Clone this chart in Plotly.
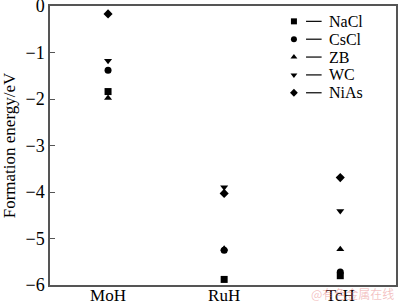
import plotly.graph_objects as go

categories = ["MoH", "RuH", "TcH"]
series_names = ["NaCl", "CsCl", "ZB", "WC", "NiAs"]
symbols = ["square", "circle", "triangle-up", "triangle-down", "diamond"]
values = {
    "NaCl": [-1.84, -5.88, -5.80],
    "CsCl": [-1.38, -5.25, -5.72],
    "ZB":   [-1.98, -5.22, -5.23],
    "WC":   [-1.18, -3.90, -4.41],
    "NiAs": [-0.17, -4.03, -3.69],
}
yticks = [0, -1, -2, -3, -4, -5, -6]

font = "Liberation Serif, Times New Roman, serif"
fig = go.Figure()
for name, sym in zip(series_names, symbols):
    fig.add_trace(go.Scatter(
        x=[1, 2, 3], y=values[name], mode="markers", name=name, showlegend=False,
        marker=dict(symbol=sym, size=7, color="black"),
    ))

# custom legend (marker, dash, label) drawn in an overlay unit frame
leg_x_marker = 0.705
leg_x_line = (0.74, 0.785)
leg_x_text = 0.8
leg_top, leg_step = 0.945, 0.064
for i, (name, sym) in enumerate(zip(series_names, symbols)):
    yy = leg_top - i * leg_step
    fig.add_trace(go.Scatter(
        x=[leg_x_marker], y=[yy], xaxis="x2", yaxis="y2", mode="markers",
        showlegend=False, hoverinfo="skip",
        marker=dict(symbol=sym, size=6, color="black"),
    ))
    fig.add_shape(type="line", xref="paper", yref="paper",
                  x0=leg_x_line[0], x1=leg_x_line[1], y0=yy, y1=yy,
                  line=dict(color="black", width=1.2))
    fig.add_annotation(x=leg_x_text, y=yy, xref="paper", yref="paper",
                       xanchor="left", yanchor="middle", text=name, showarrow=False,
                       font=dict(size=16, family=font, color="black"))

fig.update_layout(
    width=400, height=304,
    margin=dict(l=50, r=4, t=6, b=19),
    paper_bgcolor="white", plot_bgcolor="white",
    font=dict(family=font, size=17, color="black"),
    showlegend=False,
    xaxis2=dict(overlaying="x", range=[0, 1], visible=False),
    yaxis2=dict(overlaying="y", range=[0, 1], visible=False),
)
fig.update_layout(xaxis=dict(
    range=[0.5, 3.48], tickvals=[1, 2, 3], ticktext=categories,
    showgrid=False, zeroline=False, showline=True, linecolor="#555", linewidth=1.5,
    mirror=True, ticks="", tickfont=dict(size=17), automargin=False,
    ticklabeloverflow="allow", ticklabelstandoff=-6,
))
fig.update_layout(yaxis=dict(
    range=[-6, 0], tickvals=yticks, ticktext=[str(v).replace("-", "\u2212") for v in yticks],
    showgrid=False, zeroline=False, showline=True, linecolor="#555", linewidth=1.5,
    mirror=True, ticks="inside", ticklen=5, tickcolor="#555",
    ticklabeloverflow="allow", automargin=False,
    title=dict(text="Formation energy/eV", font=dict(size=17), standoff=6),
    tickfont=dict(size=18),
))
fig.add_annotation(x=1.0, y=-0.032, xref="paper", yref="paper", xanchor="right", yanchor="middle",
                   text="@有色金属在线", showarrow=False,
                   font=dict(size=12, color="rgba(230,120,120,0.45)", family="Noto Sans CJK SC"))
fig.write_html("out.html")
